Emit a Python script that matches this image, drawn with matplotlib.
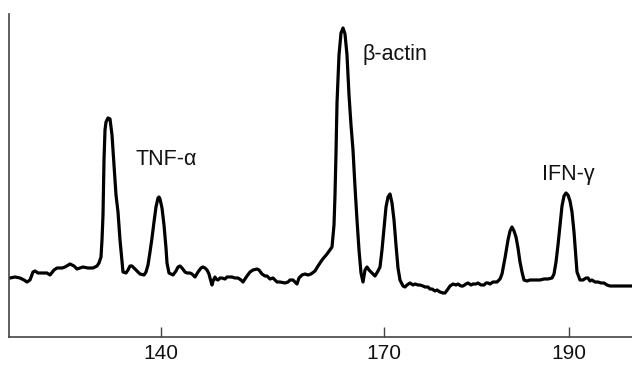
import matplotlib
matplotlib.use('Agg')
import matplotlib.pyplot as plt

# scan position (arbitrary units) and detector signal
scan_pos = [
    10, 15, 20, 24, 27, 30, 33, 35, 38, 43, 47, 50, 54, 57, 62, 65, 70, 74, 77, 80,
    83, 88, 93, 97, 99, 101, 102, 103, 104, 105, 106, 108, 110, 112, 114, 116, 118, 120, 122, 123,
    126, 128, 130, 132, 134, 137, 140, 144, 146, 148, 150, 152, 154, 156, 158, 159, 160, 162, 164, 166,
    167, 169, 173, 176, 178, 180, 182, 185, 187, 190, 192, 195, 198, 201, 203, 205, 207, 209, 210, 212,
    213, 215, 216, 218, 220, 222, 225, 227, 232, 235, 238, 241, 243, 245, 247, 250, 253, 257, 259, 262,
    265, 267, 270, 273, 275, 277, 280, 285, 288, 290, 293, 295, 297, 299, 302, 305, 308, 311, 315, 318,
    322, 327, 332, 334, 335, 336, 337, 339, 341, 343, 345, 347, 349, 351, 353, 355, 357, 359, 361, 363,
    365, 367, 369, 372, 375, 378, 380, 382, 384, 386, 388, 390, 392, 394, 396, 398, 400, 403, 405, 407,
    410, 413, 415, 418, 420, 423, 425, 428, 430, 432, 435, 437, 440, 443, 445, 448, 450, 453, 456, 458,
    461, 463, 466, 468, 471, 473, 476, 478, 481, 484, 486, 488, 490, 493, 497, 500, 502, 505, 508, 510,
    512, 514, 516, 518, 520, 522, 524, 527, 530, 533, 536, 540, 544, 548, 552, 554, 556, 558, 560, 562,
    564, 566, 568, 570, 572, 574, 576, 577, 580, 583, 586, 588, 590, 592, 595, 598, 601, 604, 607, 610,
    620, 632,
]
signal = [
    59, 60, 59, 57, 55, 57, 65, 66, 64, 64, 64, 62, 67, 69, 69, 70, 73, 71, 68, 69,
    70, 69, 69, 71, 74, 80, 97, 122, 177, 207, 215, 219, 218, 202, 172, 142, 125, 97, 75, 65,
    64, 67, 71, 71, 69, 66, 63, 62, 65, 72, 85, 99, 115, 130, 139, 140, 138, 129, 112, 89,
    74, 64, 62, 66, 70, 71, 69, 65, 64, 64, 63, 60, 65, 69, 70, 69, 67, 63, 59, 52,
    56, 60, 58, 57, 59, 59, 58, 60, 60, 59, 59, 57, 55, 58, 61, 65, 67, 68, 67, 63,
    61, 61, 58, 59, 57, 55, 55, 54, 55, 57, 57, 55, 53, 59, 62, 63, 62, 63, 66, 71,
    77, 83, 90, 112, 142, 184, 234, 282, 304, 309, 303, 282, 242, 212, 187, 150, 117, 87, 64, 55,
    67, 70, 67, 64, 61, 66, 70, 87, 109, 130, 140, 143, 134, 117, 92, 69, 57, 51, 50, 52,
    54, 52, 53, 52, 52, 51, 50, 50, 48, 48, 46, 47, 45, 44, 44, 48, 51, 53, 52, 53,
    51, 51, 53, 54, 52, 53, 53, 54, 52, 52, 54, 54, 53, 55, 55, 58, 63, 79, 97, 106,
    110, 106, 100, 89, 75, 65, 57, 56, 57, 57, 57, 57, 58, 58, 59, 63, 75, 92, 112, 131,
    141, 144, 142, 136, 125, 105, 79, 65, 57, 57, 59, 59, 56, 57, 55, 55, 54, 54, 52, 51,
    51, 51,
]

tick_pos = [161, 384, 569]
tick_labels = ['140', '170', '190']

peak_names = ['TNF-\u03b1', '\u03b2-actin', 'IFN-\u03b3']
peak_label_x = [135, 363, 542]
peak_label_y = [172, 277, 157]

plt.rcParams['font.family'] = ['Liberation Sans', 'DejaVu Sans']

fig = plt.figure(figsize=(6.32, 3.65), dpi=100)
ax = fig.add_axes([9 / 632, 28 / 365, 623 / 632, 323 / 365])

ax.plot(scan_pos, signal, color='black', linewidth=2.3, solid_joinstyle='round')

for name, lx, ly in zip(peak_names, peak_label_x, peak_label_y):
    ax.text(lx, ly, name, fontsize=15.5, ha='left', va='baseline', color='#111111')

ax.set_xlim(9, 632)
ax.set_ylim(0, 323)

ax.spines['top'].set_visible(False)
ax.spines['right'].set_visible(False)
for side in ['left', 'bottom']:
    ax.spines[side].set_color('#444444')
    ax.spines[side].set_linewidth(1.2)

ax.set_xticks(tick_pos)
ax.set_xticklabels(tick_labels)
ax.set_yticks([])
ax.tick_params(axis='x', direction='in', length=7.5, width=1.0, color='#444444',
               labelsize=15, pad=5, labelcolor='#111111')

fig.savefig('out.png', dpi=100)
